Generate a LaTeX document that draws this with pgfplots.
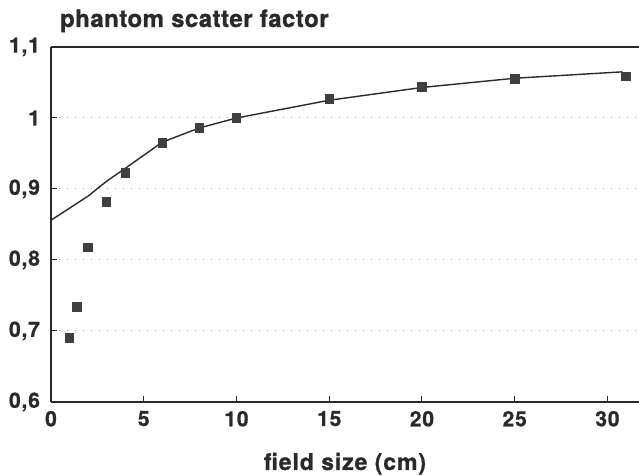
\documentclass[border=0pt]{standalone}
\usepackage{fontspec}
\setmainfont{TeX Gyre Heros}
\usepackage{pgfplots}
\pgfplotsset{compat=1.18}
\definecolor{ink}{HTML}{2A2A2A}
\begin{document}
\begin{tikzpicture}
\begin{axis}[
  at={(0,0)}, anchor=south west,
  scale only axis,
  width=294pt, height=177.5pt,
  xmin=0, xmax=31.7, ymin=0.6, ymax=1.1,
  axis x line=box, axis y line=left,
  axis line style={-, draw=ink, line width=0.6pt},
  xtick={0,5,10,15,20,25,30},
  ytick={0.6,0.7,0.8,0.9,1.0,1.1},
  yticklabels={{0,6},{0,7},{0,8},{0,9},{1},{1,1}},
  xtick pos=bottom, ytick pos=left,
  tick align=inside, major tick length=3pt,
  tick style={draw=ink, line width=0.5pt},
  /pgf/number format/assume math mode=true,
  ticklabel style={font=\fontsize{10.5}{12}\selectfont\bfseries\addfontfeatures{LetterSpace=4,FakeBold=1}, text=ink},
  xticklabel style={yshift=-1pt},
  yticklabel style={xshift=-2pt},
  ymajorgrids,
  grid style={draw=gray!70, line width=0.5pt, dash pattern=on 0.5pt off 3.5pt},
  clip=false,
]
\addplot[draw=ink, line width=0.7pt, mark=none] coordinates {
  (0,0.856) (1,0.873) (2,0.890) (3,0.911) (4,0.929) (6,0.966) (8,0.986)
  (10,1.000) (15,1.025) (20,1.043) (25,1.056) (30.8,1.065)
};
\addplot[only marks, mark=square*, mark size=2.1pt, mark options={fill=ink!90, draw=ink!90}] coordinates {
  (1,0.690) (1.4,0.734) (2,0.818) (3,0.882) (4,0.9225) (6,0.965) (8,0.986)
  (10,1.000) (15,1.027) (20,1.044) (25,1.055) (31,1.059)
};
\node[anchor=base west, text=ink, font=\fontsize{12}{14}\selectfont\bfseries\addfontfeatures{LetterSpace=2,FakeBold=1}] at (rel axis cs:0,1) [yshift=10pt, xshift=1pt] {phantom scatter factor};
\node[anchor=base, text=ink, font=\fontsize{11.5}{13}\selectfont\bfseries\addfontfeatures{LetterSpace=4,FakeBold=1}] at (rel axis cs:0.5,0) [yshift=-34pt] {field size (cm)};
\end{axis}
\pgfresetboundingbox
\path (-25.5pt,-37pt) rectangle (294pt,201pt);
\end{tikzpicture}
\end{document}
